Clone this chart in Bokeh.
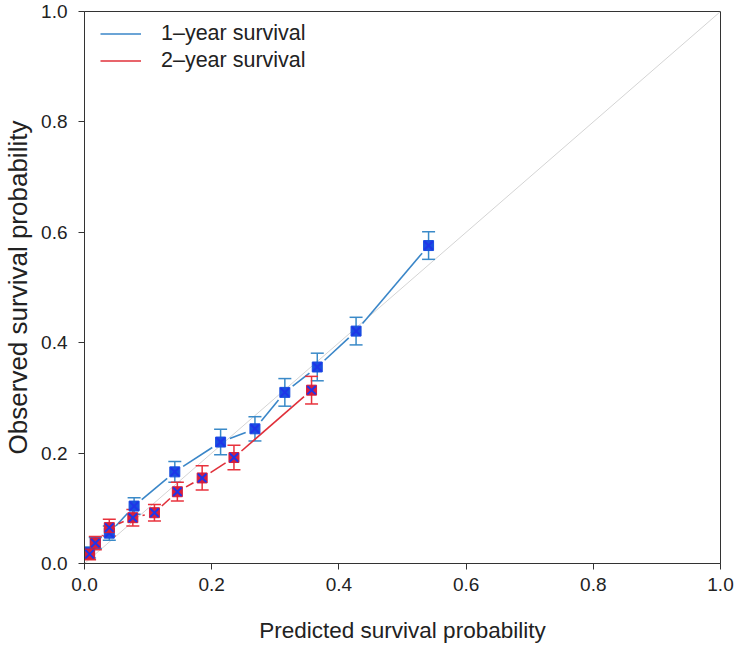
import math
from bokeh.plotting import figure
from bokeh.models import (Range1d, FixedTicker, PrintfTickFormatter, Legend, LegendItem)
from bokeh.embed import file_html
from bokeh.resources import INLINE

# ---- data ----
pred1 = [0.008, 0.017, 0.039, 0.078, 0.142, 0.214, 0.268, 0.315, 0.366, 0.427, 0.541]
obs1 = [0.020, 0.037, 0.055, 0.104, 0.166, 0.220, 0.244, 0.310, 0.356, 0.421, 0.576]
err1 = [0.010, 0.010, 0.013, 0.015, 0.019, 0.023, 0.022, 0.025, 0.025, 0.025, 0.025]

pred2 = [0.008, 0.017, 0.039, 0.076, 0.110, 0.146, 0.185, 0.235, 0.357]
obs2 = [0.017, 0.037, 0.065, 0.083, 0.092, 0.130, 0.155, 0.192, 0.314]
err2 = [0.010, 0.012, 0.015, 0.015, 0.015, 0.017, 0.022, 0.022, 0.025]

ref = [0.0, 1.0]
ticks = [0.0, 0.2, 0.4, 0.6, 0.8, 1.0]
labels = ["1\u2013year survival", "2\u2013year survival"]

W, H = 735, 646
BL, BR, BT, BB = 80, 15, 11, 83
FRAME_W, FRAME_H = W - BL - BR, H - BT - BB
GAP = 10  # px gap around points (type="b" style lines)

FONT = "Liberation Sans"

p = figure(width=W, height=H, output_backend="svg", toolbar_location=None,
           x_range=Range1d(0, 1), y_range=Range1d(0, 1),
           min_border_left=BL, min_border_right=BR, min_border_top=BT, min_border_bottom=BB)
p.xgrid.visible = False
p.ygrid.visible = False
p.outline_line_color = "#333333"
p.outline_line_width = 1
p.background_fill_color = "white"

for ax in (p.xaxis[0], p.yaxis[0]):
    ax.ticker = FixedTicker(ticks=ticks)
    ax.formatter = PrintfTickFormatter(format="%.1f")
    ax.major_tick_out = 6
    ax.major_tick_in = 0
    ax.minor_tick_out = 0
    ax.minor_tick_in = 0
    ax.axis_line_color = "#333333"
    ax.major_tick_line_color = "#333333"
    ax.major_label_text_font = FONT
    ax.major_label_text_font_size = "19px"
    ax.major_label_text_color = "#222222"
    ax.axis_label_text_font = FONT
    ax.axis_label_text_font_style = "normal"
    ax.axis_label_text_color = "#222222"

p.xaxis.axis_label = "Predicted survival probability"
p.yaxis.axis_label = "Observed survival probability"
p.xaxis.axis_label_text_font_size = "22.5px"
p.yaxis.axis_label_text_font_size = "26px"
p.xaxis.major_label_standoff = 8
p.yaxis.major_label_standoff = 11
p.xaxis.axis_label_standoff = 24
p.yaxis.axis_label_standoff = 5

# reference diagonal
p.line(ref, ref, line_color="#d4d4d4", line_width=1)


def gapped_segments(xs, ys):
    x0s, y0s, x1s, y1s = [], [], [], []
    for i in range(len(xs) - 1):
        dxp = (xs[i + 1] - xs[i]) * FRAME_W
        dyp = (ys[i + 1] - ys[i]) * FRAME_H
        L = math.hypot(dxp, dyp)
        if L <= 2 * GAP:
            continue
        f = GAP / L
        x0s.append(xs[i] + f * (xs[i + 1] - xs[i]))
        y0s.append(ys[i] + f * (ys[i + 1] - ys[i]))
        x1s.append(xs[i + 1] - f * (xs[i + 1] - xs[i]))
        y1s.append(ys[i + 1] - f * (ys[i + 1] - ys[i]))
    return x0s, y0s, x1s, y1s


series = [
    (pred1, obs1, err1, "#3a86c8", "#3a8ac8", "#1a4fe0"),
    (pred2, obs2, err2, "#e0303a", "#e8323c", "#d81e3c"),
]
line_renderers = []
for xs, ys, es, lcol, ecol, fcol in series:
    x0, y0, x1, y1 = gapped_segments(xs, ys)
    r = p.segment(x0, y0, x1, y1, line_color=lcol, line_width=1.6)
    line_renderers.append(r)
    lo = [y - e for y, e in zip(ys, es)]
    hi = [y + e for y, e in zip(ys, es)]
    p.segment(xs, lo, xs, hi, line_color=ecol, line_width=1.5)
    p.scatter(xs, lo, marker="dash", size=13, line_color=ecol, line_width=1.5)
    p.scatter(xs, hi, marker="dash", size=13, line_color=ecol, line_width=1.5)

for xs, ys, es, lcol, ecol, fcol in series:
    p.scatter(xs, ys, marker="square", size=10, fill_color=fcol, line_color=fcol)
    p.scatter(xs, ys, marker="x", size=12, line_color="#1f35e8", line_width=2)

legend = Legend(items=[LegendItem(label=labels[0], renderers=[line_renderers[0]]),
                       LegendItem(label=labels[1], renderers=[line_renderers[1]])],
                location=(16, FRAME_H - 63))
legend.border_line_color = None
legend.background_fill_alpha = 0
legend.padding = 0
legend.margin = 0
legend.spacing = 0
legend.glyph_width = 41
legend.glyph_height = 27
legend.label_height = 27
legend.label_standoff = 20
legend.label_text_font = FONT
legend.label_text_font_size = "21.5px"
legend.label_text_color = "#222222"
p.add_layout(legend)

open("out.html", "w").write(file_html(p, INLINE))
